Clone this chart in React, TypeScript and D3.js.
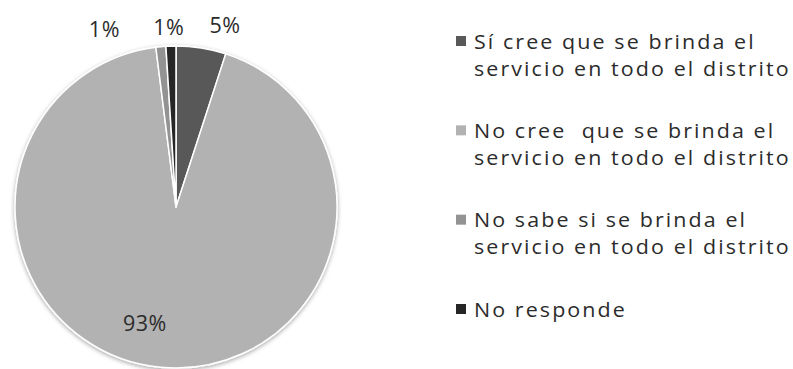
import React from "react";
import * as d3 from "d3";

const categories = [
  ["Sí cree que se brinda el", "servicio en todo el distrito"],
  ["No cree  que se brinda el", "servicio en todo el distrito"],
  ["No sabe si se brinda el", "servicio en todo el distrito"],
  ["No responde"],
];
const values = [5, 93, 1, 1];
const valueLabels = ["5%", "93%", "1%", "1%"];
const colors = ["#595959", "#b2b2b2", "#939393", "#262626"];
// label placement (layout tweaks, degrees shift from slice mid-angle, radius)
const labelAngleShift = [6, 9.6, -16.5, -0.5];
const labelRadius = [189, 120, 192, 181];

const W = 793;
const H = 369;
const cx = 176;
const cy = 207;
const R = 161;

export default function App() {
  const pie = d3.pie<number>().sort(null).value((d) => d);
  const arcs = pie(values);
  const arcGen = d3.arc<d3.PieArcDatum<number>>().innerRadius(0).outerRadius(R);

  const legendY = d3.scaleLinear().domain([0, 3]).range([41, 309]);
  const lineH = 27;

  return (
    <svg
      width={W}
      height={H}
      style={{ position: "absolute", left: 0, top: 0, background: "#fff" }}
    >
      <defs>
        <filter id="sh" x="-20%" y="-20%" width="140%" height="140%">
          <feDropShadow dx="0" dy="1.5" stdDeviation="2" floodColor="#000" floodOpacity="0.35" />
        </filter>
      </defs>
      <g transform={`translate(${cx},${cy})`}>
        <g filter="url(#sh)">
          {arcs.map((a, i) => (
            <path key={i} d={arcGen(a) || ""} fill={colors[i]} stroke="#fff" strokeWidth={1.5} strokeLinejoin="round" />
          ))}
        </g>
        {arcs.map((a, i) => {
          const mid = (a.startAngle + a.endAngle) / 2 + (labelAngleShift[i] * Math.PI) / 180;
          const r = labelRadius[i];
          const x = r * Math.sin(mid);
          const y = -r * Math.cos(mid);
          return (
            <text
              key={i}
              x={x}
              y={y}
              textAnchor="middle"
              dominantBaseline="central"
              fontFamily="'Open Sans', sans-serif"
              fontSize={21.5}
              letterSpacing={0.5}
              fill="#2b2b2b"
            >
              {valueLabels[i]}
            </text>
          );
        })}
      </g>
      <g>
        {categories.map((lines, i) => {
          const y0 = legendY(i);
          return (
            <g key={i}>
              <rect x={456} y={y0 - 5} width={10} height={10} fill={colors[i]} />
              {lines.map((t, j) => (
                <g key={j} transform={`translate(474,${y0 + j * lineH}) scale(1.1,1)`}>
                  <text
                    x={0}
                    y={0}
                    dominantBaseline="central"
                    fontFamily="'Open Sans', sans-serif"
                    fontSize={19.5}
                    letterSpacing={1.9}
                    fill="#2b2b2b"
                    style={{ whiteSpace: "pre" }}
                  >
                    {t}
                  </text>
                </g>
              ))}
            </g>
          );
        })}
      </g>
    </svg>
  );
}
